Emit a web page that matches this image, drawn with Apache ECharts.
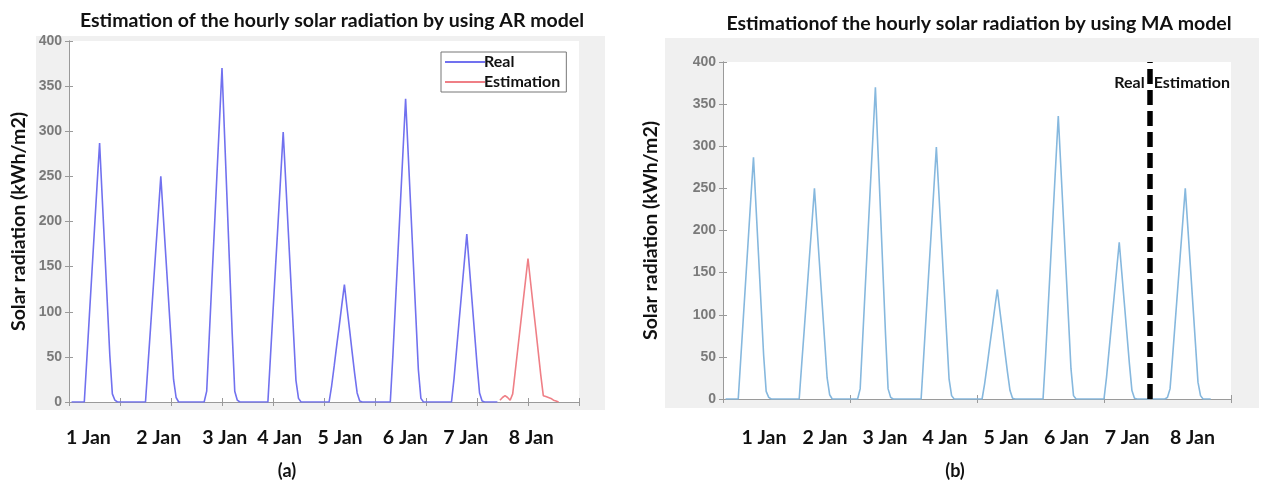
<!DOCTYPE html>
<html>
<head>
<meta charset="utf-8">
<script src="https://cdn.jsdelivr.net/npm/echarts@6/dist/echarts.min.js"></script>
<style>
  html, body { margin: 0; padding: 0; background: #ffffff; }
  #chart { width: 1261px; height: 484px; }
</style>
</head>
<body>
<div id="chart"></div>
<script>
// Hourly solar radiation (kWh/m2), hours 1..24 of each day
const jan1 = [0, 0, 0, 0, 0, 0, 48, 96, 144, 192, 240, 287, 228, 170, 111, 52, 9, 2, 0, 0, 0, 0, 0, 0];
const jan2 = [0, 0, 0, 0, 0, 0, 42, 83, 125, 167, 208, 250, 205, 160, 115, 70, 25, 5, 0, 0, 0, 0, 0, 0];
const jan3 = [0, 0, 0, 0, 0, 12, 72, 132, 191, 251, 310, 370, 296, 223, 149, 76, 12, 2, 0, 0, 0, 0, 0, 0];
const jan4 = [0, 0, 0, 0, 0, 0, 50, 100, 150, 199, 249, 299, 244, 189, 134, 79, 24, 4, 0, 0, 0, 0, 0, 0];
const jan5 = [0, 0, 0, 0, 0, 0, 18, 40, 63, 85, 108, 130, 105, 81, 56, 32, 10, 1, 0, 0, 0, 0, 0, 0];
const jan6 = [0, 0, 0, 0, 0, 0, 51, 108, 165, 222, 279, 336, 276, 216, 156, 96, 36, 4, 0, 0, 0, 0, 0, 0];
const jan7 = [0, 0, 0, 0, 0, 0, 26, 58, 90, 122, 154, 186, 150, 114, 78, 42, 10, 1, 0, 0, 0, 0, 0, 0];
// Day 8 forecasts
const jan8AR = [2, 5, 7, 5, 2, 9, 34, 59, 84, 109, 134, 159, 133, 107, 82, 56, 30, 7, 6, 5, 4, 2, 1, 0];
const jan8MA = [0, 0, 0, 0, 0, 0, 2, 12, 50, 90, 130, 170, 210, 250, 204, 158, 112, 66, 20, 4, 0, 0, 0, 0];

// Day captions under each x axis and the hour they sit at
const dayNames = ['1 Jan', '2 Jan', '3 Jan', '4 Jan', '5 Jan', '6 Jan', '7 Jan', '8 Jan'];
const dayHoursAR = [7.6, 35.2, 61.1, 82.6, 106.3, 131.9, 155.6, 181.3];
const dayHoursMA = [16.1, 40.2, 63.8, 87.4, 111.4, 135.2, 159.1, 184.8];
const forecastStart = 168;

const FRAME = '#9a9a9a';
const CAL = 'Lato, "Open Sans", sans-serif';

function toPoints(days, firstHour) {
  const pts = [];
  days.forEach((d, k) => d.forEach((v, h) => pts.push([firstHour + k * 24 + h, v])));
  return pts;
}
const realPts = toPoints([jan1, jan2, jan3, jan4, jan5, jan6, jan7], 1);
const arPts = toPoints([jan8AR], forecastStart + 1);
const maPts = toPoints([jan8MA], forecastStart + 1);

function bottomAxis(grid, interval, labelHours, margin) {
  return {
    gridIndex: grid, type: 'value', min: 0, max: 200, interval: interval, position: 'bottom',
    axisLine: { lineStyle: { color: FRAME, width: 1 } },
    axisTick: { inside: true, length: 4, lineStyle: { color: FRAME } },
    splitLine: { show: false },
    axisLabel: {
      customValues: labelHours,
      formatter: v => dayNames[labelHours.indexOf(v)] || '',
      margin: margin, fontFamily: CAL, fontWeight: 'bold', fontSize: 19.5, color: '#111'
    }
  };
}
function topAxis(grid, interval) {
  return {
    gridIndex: grid, type: 'value', min: 0, max: 200, interval: interval, position: 'top',
    axisLine: { lineStyle: { color: FRAME, width: 1 } },
    axisTick: { inside: true, length: 4, lineStyle: { color: FRAME } },
    axisLabel: { show: false }, splitLine: { show: false }
  };
}
function leftAxis(grid, nameGap) {
  return {
    gridIndex: grid, type: 'value', min: 0, max: 400, interval: 50, position: 'left',
    name: 'Solar radiation (kWh/m2)', nameLocation: 'middle', nameGap: nameGap, nameRotate: 90,
    nameTextStyle: { fontFamily: CAL, fontWeight: 'bold', fontSize: 19.5, color: '#111' },
    axisLine: { show: true, lineStyle: { color: FRAME, width: 1 } },
    axisTick: { show: true, inside: true, length: 4, lineStyle: { color: FRAME } },
    splitLine: { show: false },
    axisLabel: { margin: 7, fontFamily: '"Liberation Sans", Arial, sans-serif', fontWeight: 'bold', fontSize: 14, color: '#7a7a7a' }
  };
}
function rightAxis(grid) {
  return {
    gridIndex: grid, type: 'value', min: 0, max: 400, interval: 50, position: 'right',
    axisLine: { show: true, lineStyle: { color: FRAME, width: 1 } },
    axisTick: { show: true, inside: true, length: 4, lineStyle: { color: FRAME } },
    axisLabel: { show: false }, splitLine: { show: false }
  };
}

const chart = echarts.init(document.getElementById('chart'), null, { renderer: 'canvas' });

const option = {
  animation: false,
  backgroundColor: '#ffffff',
  title: [
    { text: 'Estimation of the hourly solar radiation by using AR model', left: 327, top: 6, textAlign: 'center',
      textStyle: { fontFamily: CAL, fontWeight: 'bold', fontSize: 19.5, color: '#111' } },
    { text: 'Estimationof the hourly solar radiation by using MA model', left: 974, top: 9, textAlign: 'center',
      textStyle: { fontFamily: CAL, fontWeight: 'bold', fontSize: 19.5, color: '#111' } }
  ],
  grid: [
    { left: 69, top: 41, width: 510, height: 361, show: true, backgroundColor: '#ffffff', borderWidth: 0 },
    { left: 723, top: 62, width: 508, height: 337, show: true, backgroundColor: '#ffffff', borderWidth: 0 }
  ],
  xAxis: [
    bottomAxis(0, 20, dayHoursAR, 26),
    topAxis(0, 20),
    bottomAxis(1, 50, dayHoursMA, 29),
    topAxis(1, 50)
  ],
  yAxis: [
    leftAxis(0, 40),
    rightAxis(0),
    leftAxis(1, 62),
    rightAxis(1)
  ],
  legend: {
    data: [{ name: 'Real', icon: 'rect' }, { name: 'Estimation', icon: 'rect' }],
    orient: 'vertical', left: 441, top: 52,
    itemWidth: 40, itemHeight: 2, itemGap: 2,
    padding: [1, 6, 1, 4],
    borderColor: '#777', borderWidth: 1, backgroundColor: '#ffffff',
    textStyle: { fontFamily: CAL, fontWeight: 'bold', fontSize: 16, color: '#111', padding: [0, 0, 0, -6], lineHeight: 18 }
  },
  series: [
    { name: 'Real', type: 'line', xAxisIndex: 0, yAxisIndex: 0, data: realPts, symbol: 'none',
      lineStyle: { color: '#7171ef', width: 1.6 }, itemStyle: { color: '#7171ef' } },
    { name: 'Estimation', type: 'line', xAxisIndex: 0, yAxisIndex: 0, data: arPts, symbol: 'none',
      lineStyle: { color: '#ef7f86', width: 1.6 }, itemStyle: { color: '#ef7f86' } },
    { name: 'MA real', type: 'line', xAxisIndex: 2, yAxisIndex: 2, data: realPts, symbol: 'none',
      lineStyle: { color: '#86b8de', width: 1.6 }, itemStyle: { color: '#86b8de' },
      markLine: {
        silent: true, symbol: 'none', animation: false,
        label: { show: false },
        lineStyle: { color: '#000000', width: 5.5, type: [15, 6] },
        data: [{ xAxis: forecastStart }]
      } },
    { name: 'MA estimation', type: 'line', xAxisIndex: 2, yAxisIndex: 2, data: maPts, symbol: 'none',
      lineStyle: { color: '#86b8de', width: 1.6 }, itemStyle: { color: '#86b8de' } }
  ],
  graphic: [
    { type: 'rect', z: -10, shape: { x: 36, y: 36, width: 569, height: 374 }, style: { fill: '#f0f0f0' } },
    { type: 'rect', z: -10, shape: { x: 665, y: 38, width: 594, height: 370 }, style: { fill: '#f0f0f0' } }
  ]
};
chart.setOption(option);

// Captions: split labels beside the forecast boundary and panel letters
const boundary = chart.convertToPixel({ gridIndex: 1 }, [forecastStart, 375]);
const txt = (id, x, y, text, align, size) => ({
  id: id, type: 'text', z: 10, x: x, y: y,
  style: { text: text, fill: '#111', font: 'bold ' + size + 'px ' + CAL, textAlign: align, textVerticalAlign: 'middle' }
});
chart.setOption({
  graphic: [
    txt('real', boundary[0] - 5, boundary[1], 'Real', 'right', 16),
    txt('est', boundary[0] + 4, boundary[1], 'Estimation', 'left', 16),
    txt('a', 287, 471, '(a)', 'center', 18),
    txt('b', 955, 471, '(b)', 'center', 18)
  ]
});
</script>
</body>
</html>
